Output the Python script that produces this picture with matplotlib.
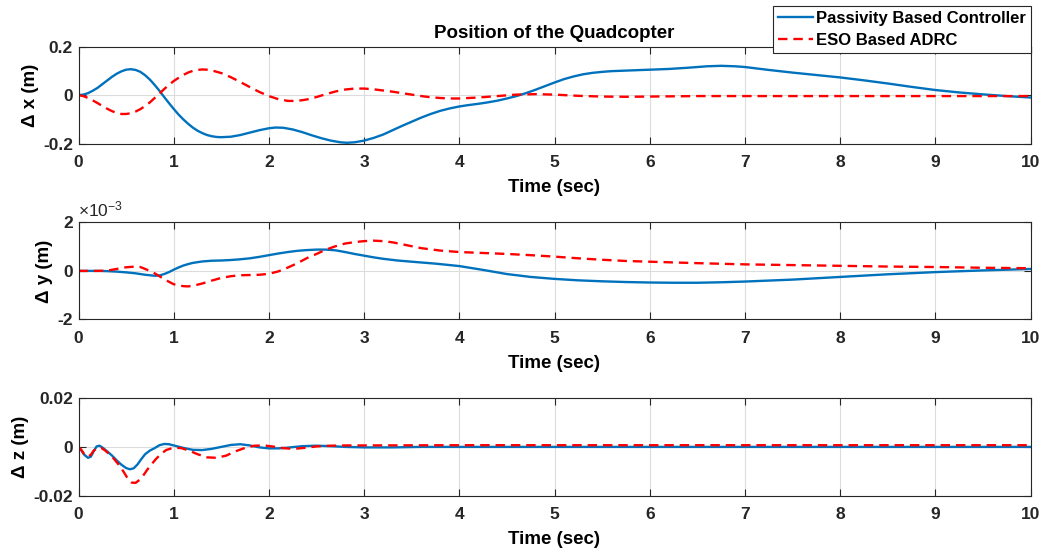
import matplotlib
matplotlib.use("Agg")
import matplotlib.pyplot as plt

plt.rcParams['font.family'] = ['Liberation Sans', 'DejaVu Sans']
plt.rcParams['font.weight'] = 'bold'
plt.rcParams['mathtext.default'] = 'regular'

# ---- data ----
tx_pbc = [0, 0.05, 0.1, 0.15, 0.2, 0.25, 0.3, 0.35, 0.4, 0.45, 0.5, 0.55, 0.6, 0.65, 0.7, 0.75, 0.8, 0.85, 0.9, 0.95,
          1.0, 1.05, 1.1, 1.15, 1.2, 1.25, 1.3, 1.35, 1.4, 1.45, 1.5, 1.6, 1.7, 1.8, 1.9, 2.0, 2.07, 2.15, 2.25, 2.35,
          2.45, 2.55, 2.65, 2.75, 2.82, 2.9, 3.0, 3.1, 3.2, 3.3, 3.4, 3.5, 3.6, 3.7, 3.8, 3.9, 4.0, 4.1, 4.2, 4.3,
          4.4, 4.5, 4.6, 4.7, 4.8, 4.9, 5.0, 5.1, 5.2, 5.3, 5.4, 5.5, 5.6, 5.8, 6.0, 6.2, 6.4, 6.6, 6.75, 6.9,
          7.0, 7.25, 7.5, 7.75, 8.0, 8.25, 8.5, 8.75, 9.0, 9.25, 9.5, 9.75, 10.0]
x_pbc = [0, 0.002, 0.008, 0.018, 0.03, 0.045, 0.06, 0.075, 0.088, 0.098, 0.105, 0.107, 0.104, 0.096, 0.082, 0.064,
         0.042, 0.018, -0.008, -0.033, -0.057, -0.08, -0.1, -0.118, -0.134, -0.147, -0.157, -0.165, -0.17, -0.173,
         -0.174, -0.172, -0.165, -0.155, -0.145, -0.137, -0.134, -0.135, -0.142, -0.153, -0.166, -0.178, -0.188,
         -0.195, -0.197, -0.195, -0.188, -0.177, -0.163, -0.145, -0.127, -0.11, -0.093, -0.078, -0.065, -0.055,
         -0.047, -0.041, -0.036, -0.030, -0.023, -0.014, -0.004, 0.008, 0.022, 0.037, 0.052, 0.066, 0.077, 0.086,
         0.092, 0.096, 0.099, 0.102, 0.105, 0.108, 0.113, 0.119, 0.121, 0.119, 0.116, 0.104, 0.093, 0.083, 0.073,
         0.061, 0.048, 0.034, 0.021, 0.011, 0.003, -0.004, -0.010]

tx_adrc = [0, 0.05, 0.1, 0.15, 0.2, 0.25, 0.3, 0.35, 0.4, 0.45, 0.5, 0.55, 0.6, 0.65, 0.7, 0.75, 0.8, 0.85, 0.9, 0.95,
           1.0, 1.05, 1.1, 1.15, 1.2, 1.25, 1.3, 1.35, 1.4, 1.5, 1.6, 1.7, 1.8, 1.9, 2.0, 2.1, 2.2, 2.3, 2.4, 2.5,
           2.6, 2.7, 2.8, 2.9, 3.0, 3.1, 3.2, 3.3, 3.4, 3.5, 3.6, 3.7, 3.8, 3.9, 4.0, 4.2, 4.4, 4.6, 4.8, 5.0,
           5.25, 5.5, 5.75, 6.0, 6.5, 7.0, 8.0, 9.0, 10.0]
x_adrc = [0, -0.004, -0.012, -0.022, -0.033, -0.045, -0.056, -0.066, -0.074, -0.078, -0.078, -0.075, -0.068, -0.058,
          -0.045, -0.03, -0.012, 0.006, 0.025, 0.042, 0.058, 0.071, 0.083, 0.093, 0.1, 0.104, 0.106, 0.105, 0.102,
          0.091, 0.074, 0.054, 0.033, 0.013, -0.004, -0.017, -0.024, -0.024, -0.018, -0.008, 0.004, 0.015, 0.023,
          0.027, 0.027, 0.024, 0.019, 0.014, 0.008, 0.002, -0.004, -0.009, -0.012, -0.014, -0.014, -0.010, -0.004,
          0.002, 0.004, 0.002, -0.003, -0.006, -0.007, -0.006, -0.004, -0.004, -0.004, -0.004, -0.004]

ty_pbc = [0, 0.1, 0.2, 0.3, 0.4, 0.5, 0.6, 0.7, 0.8, 0.85, 0.9, 0.95, 1.0, 1.05, 1.1, 1.15, 1.2, 1.3, 1.4, 1.5,
          1.6, 1.7, 1.8, 1.9, 2.0, 2.1, 2.2, 2.3, 2.4, 2.5, 2.6, 2.7, 2.8, 2.9, 3.0, 3.1, 3.2, 3.35, 3.5, 3.75,
          4.0, 4.25, 4.5, 4.75, 5.0, 5.25, 5.5, 5.75, 6.0, 6.25, 6.5, 6.75, 7.0, 7.5, 8.0, 8.5, 9.0, 9.5, 10.0]
y_pbc_e3 = [0, 0, 0, -0.01, -0.03, -0.06, -0.1, -0.16, -0.2, -0.19, -0.13, -0.05, 0.05, 0.14, 0.22, 0.28, 0.33,
            0.39, 0.42, 0.43, 0.45, 0.48, 0.52, 0.58, 0.65, 0.72, 0.78, 0.83, 0.86, 0.88, 0.88, 0.85, 0.78, 0.70,
            0.63, 0.56, 0.50, 0.43, 0.38, 0.30, 0.20, 0.04, -0.13, -0.25, -0.33, -0.39, -0.43, -0.46, -0.48, -0.49,
            -0.49, -0.47, -0.44, -0.36, -0.25, -0.14, -0.05, 0.02, 0.08]

ty_adrc = [0, 0.1, 0.2, 0.3, 0.4, 0.5, 0.6, 0.65, 0.7, 0.75, 0.8, 0.85, 0.9, 0.95, 1.0, 1.05, 1.1, 1.15, 1.2, 1.3,
           1.4, 1.5, 1.6, 1.7, 1.8, 1.9, 2.0, 2.1, 2.2, 2.3, 2.4, 2.5, 2.6, 2.7, 2.8, 2.9, 3.0, 3.1, 3.2, 3.3,
           3.45, 3.6, 3.8, 4.0, 4.25, 4.5, 4.75, 5.0, 5.25, 5.5, 5.75, 6.0, 6.5, 7.0, 7.5, 8.0, 8.5, 9.0, 9.5, 10.0]
y_adrc_e3 = [0, 0, 0, 0.01, 0.08, 0.15, 0.18, 0.16, 0.08, 0.0, -0.1, -0.22, -0.34, -0.45, -0.55, -0.6, -0.63,
             -0.64, -0.62, -0.52, -0.4, -0.29, -0.22, -0.18, -0.17, -0.16, -0.12, -0.02, 0.14, 0.32, 0.53, 0.7,
             0.88, 1.02, 1.13, 1.19, 1.23, 1.25, 1.23, 1.18, 1.06, 0.94, 0.84, 0.78, 0.74, 0.70, 0.65, 0.59, 0.52,
             0.46, 0.41, 0.38, 0.32, 0.27, 0.24, 0.21, 0.18, 0.16, 0.13, 0.11]

tz_pbc = [0, 0.03, 0.06, 0.1, 0.13, 0.16, 0.19, 0.22, 0.26, 0.3, 0.35, 0.4, 0.45, 0.5, 0.54, 0.58, 0.62, 0.66, 0.7,
          0.75, 0.8, 0.85, 0.9, 0.95, 1.0, 1.1, 1.2, 1.3, 1.4, 1.5, 1.6, 1.7, 1.8, 1.9, 2.0, 2.1, 2.2, 2.35, 2.5,
          2.65, 2.8, 3.0, 3.3, 3.6, 4.0, 6.0, 8.0, 10.0]
z_pbc = [0, -0.0015, -0.0032, -0.0045, -0.004, -0.0018, 0.0002, 0.0005, -0.0005, -0.0018, -0.0035, -0.0055, -0.0073,
         -0.0087, -0.0092, -0.0088, -0.0072, -0.005, -0.003, -0.0015, -0.0005, 0.0007, 0.0012, 0.0011, 0.0006,
         -0.0004, -0.0012, -0.0013, -0.0008, 0.0, 0.0008, 0.0011, 0.0006, -0.0002, -0.0006, -0.0006, -0.0003,
         0.0003, 0.0005, 0.0003, 0.0, -0.0002, -0.0002, 0.0, 0.0, 0.0, 0.0, 0.0]

tz_adrc = [0, 0.03, 0.06, 0.1, 0.13, 0.16, 0.2, 0.24, 0.28, 0.32, 0.37, 0.42, 0.47, 0.52, 0.56, 0.6, 0.64, 0.68,
           0.72, 0.77, 0.82, 0.87, 0.92, 1.0, 1.08, 1.16, 1.25, 1.35, 1.45, 1.55, 1.65, 1.75, 1.85, 1.95, 2.05,
           2.15, 2.25, 2.35, 2.5, 2.65, 2.8, 3.0, 4.0, 10.0]
z_adrc = [0, -0.0012, -0.003, -0.0041, -0.0032, -0.0015, -0.0004, -0.0004, -0.0015, -0.0028, -0.0048, -0.0072,
          -0.01, -0.0132, -0.0147, -0.0148, -0.0136, -0.0118, -0.0095, -0.007, -0.0047, -0.0028, -0.0013, -0.0003,
          -0.0005, -0.0015, -0.003, -0.0043, -0.0045, -0.0036, -0.0018, -0.0004, 0.0005, 0.0006, 0.0001, -0.0005,
          -0.0008, -0.0005, 0.0002, 0.0005, 0.0006, 0.0006, 0.0007, 0.0007]

x_ticks = list(range(0, 11))
x_yticks = [-0.2, 0, 0.2]
x_yticklabels = ['-0.2', '0', '0.2']
y_yticks = [-2, 0, 2]
y_yticklabels = ['-2', '0', '2']
z_yticks = [-0.02, 0, 0.02]
z_yticklabels = ['-0.02', '0', '0.02']

labels = ['Passivity Based Controller', 'ESO Based ADRC']

BLUE = '#0072BD'
RED = '#FF0000'
FS = 12.5
LFS = 13.5

fig = plt.figure(figsize=(10.44, 5.48), dpi=100)
W, H = 1044, 548
def rect(l, r, t, b):
    return [l / W, 1 - b / H, (r - l) / W, (b - t) / H]

ax1 = fig.add_axes(rect(78.5, 1030.5, 46.7, 143.5))
ax2 = fig.add_axes(rect(78.5, 1030.5, 222.5, 319.3))
ax3 = fig.add_axes(rect(78.5, 1030.5, 398.3, 495.5))

def style(ax, yticks, ylabels, ylim, ylab):
    ax.set_xlim(0, 10)
    ax.set_ylim(*ylim)
    ax.set_xticks(x_ticks)
    ax.set_xticklabels([str(v) for v in x_ticks], fontsize=FS, fontweight='bold', color='#262626')
    ax.set_yticks(yticks)
    ax.set_yticklabels(ylabels, fontsize=FS, fontweight='bold', color='#262626')
    ax.tick_params(direction='in', top=True, right=True, length=5, width=0.8, color='#262626')
    ax.tick_params(axis='x', pad=8.5)
    ax.tick_params(axis='y', pad=4)
    ax.grid(True, color='#DCDCDC', linewidth=0.8)
    ax.set_axisbelow(True)
    for s in ax.spines.values():
        s.set_color('#262626')
        s.set_linewidth(0.8)
    ax.set_xlabel('Time (sec)', fontsize=LFS, fontweight='bold', labelpad=6.5)
    ax.set_ylabel(ylab, fontsize=LFS, fontweight='bold', labelpad=3)

dash = (4, 2.5)
l1, = ax1.plot(tx_pbc, x_pbc, color=BLUE, lw=1.7)
l2, = ax1.plot(tx_adrc, x_adrc, color=RED, lw=1.7, linestyle=(0, dash))
style(ax1, x_yticks, x_yticklabels, (-0.2, 0.2), 'Δ x (m)')
ax1.set_title('Position of the Quadcopter', fontsize=LFS, fontweight='bold', pad=6)

ax2.plot(ty_pbc, y_pbc_e3, color=BLUE, lw=1.7)
ax2.plot(ty_adrc, y_adrc_e3, color=RED, lw=1.7, linestyle=(0, dash))
style(ax2, y_yticks, y_yticklabels, (-2, 2), 'Δ y (m)')
ax2.text(0, 1.03, '×10$^{-3}$', transform=ax2.transAxes, fontsize=FS, fontweight='normal',
         ha='left', va='bottom', color='#262626')

ax3.plot(tz_pbc, z_pbc, color=BLUE, lw=1.7)
ax3.plot(tz_adrc, z_adrc, color=RED, lw=1.7, linestyle=(0, dash))
style(ax3, z_yticks, z_yticklabels, (-0.02, 0.02), 'Δ z (m)')

leg = fig.legend([l1, l2], labels, loc='upper right',
                 bbox_to_anchor=(1031 / W, 1 - 6 / H),
                 prop={'weight': 'bold', 'size': 12}, frameon=True, fancybox=False,
                 handlelength=2.1, handletextpad=0.2, borderpad=0.3, labelspacing=0.42,
                 borderaxespad=0)
leg.get_frame().set_edgecolor('#262626')
leg.get_frame().set_linewidth(0.8)
leg.get_frame().set_alpha(1)

fig.savefig('out.png', dpi=100)
